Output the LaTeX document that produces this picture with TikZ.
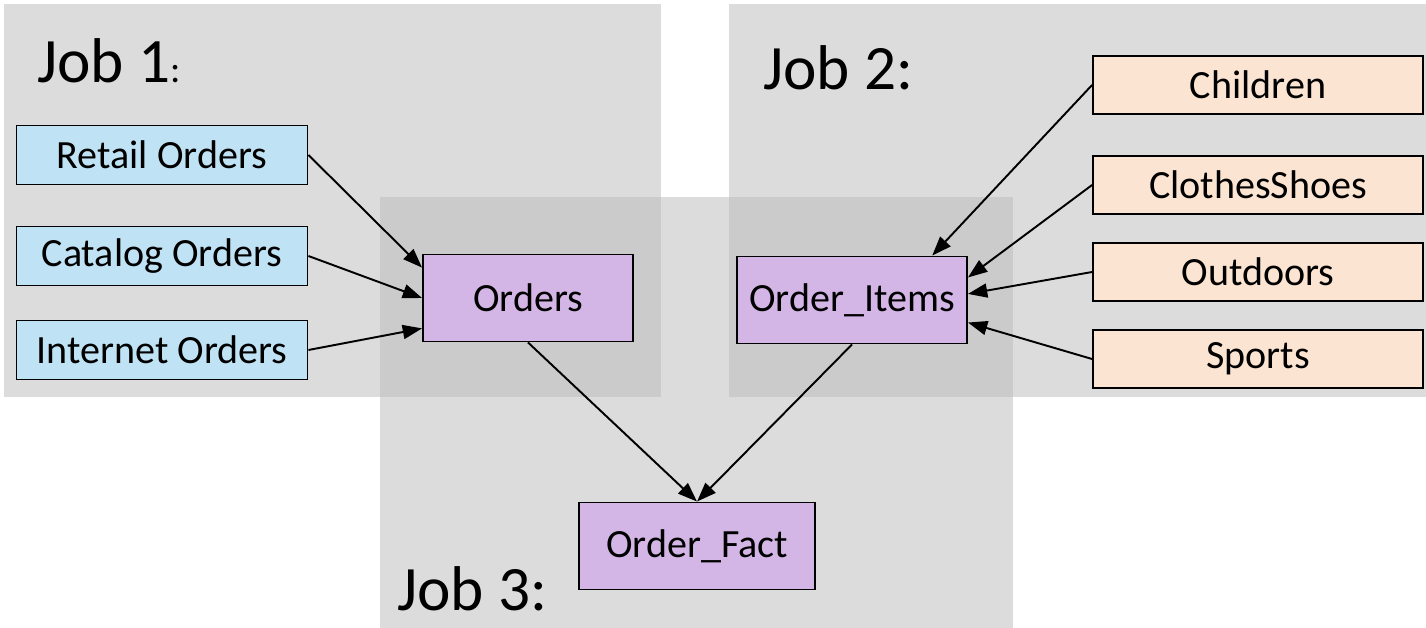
\documentclass[tikz,border=0pt]{standalone}
\usepackage{fontspec}
\setmainfont{Carlito}
\usetikzlibrary{arrows.meta}
\definecolor{panel}{RGB}{220,220,220}
\definecolor{overlap}{RGB}{203,203,203}
\definecolor{srcblue}{RGB}{191,227,244}
\definecolor{srcpeach}{RGB}{252,228,210}
\definecolor{tblpurple}{RGB}{212,182,230}
\tikzset{
  box/.style={draw=black, line width=1.1pt, inner sep=0pt, font=\fontsize{22.8}{27}\selectfont},
  srcbox/.style={box, fill=srcblue, minimum width=5.82cm, minimum height=1.18cm},
  catbox/.style={box, fill=srcpeach, minimum width=6.6cm, minimum height=1.17cm},
  tblbox/.style={box, fill=tblpurple, minimum height=1.74cm},
  joblabel/.style={anchor=base west, inner sep=0pt, font=\fontsize{36}{40}\selectfont},
  arr/.style={line width=1.1pt, -{Triangle[length=11pt,width=8pt]}}
}
\begin{document}
\begin{tikzpicture}[x=0.02cm, y=-0.02cm]
\useasboundingbox (0,0) rectangle (1426,628);
\fill [panel] (4,4) rectangle (661,397);
\fill [panel] (729,4) rectangle (1426,397);
\fill [panel] (380,197) rectangle (1013,628);
\fill [overlap] (380,197) rectangle (661,397);
\fill [overlap] (729,197) rectangle (1013,397);
\node [joblabel] (job1) at (37,83) {Job 1\fontsize{22}{25}\selectfont:};
\node [joblabel] (job2) at (763,90) {Job 2:};
\node [joblabel] (job3) at (397,610) {Job 3:};
\foreach \name/\y/\txt in {retail/155/Retail Orders, catalog/256/Catalog Orders, internet/350/Internet Orders}{
\node [srcbox] (\name) at (162,\y) {\txt};
}
\foreach \name/\y/\txt in {children/85/Children, clothes/185/ClothesShoes, outdoors/272/Outdoors, sports/359/Sports}{
\node [catbox] (\name) at (1258,\y) {\txt};
}
\node [tblbox, minimum width=4.2cm] (orders) at (528,298) {Orders};
\node [tblbox, minimum width=4.6cm] (items) at (852,300) {Order\_Items};
\node [tblbox, minimum width=4.72cm] (fact) at (697,546) {Order\_Fact};
\foreach \a/\b in {retail/164, catalog/180, internet/196}{
\draw [arr] (\a.east) -- (orders.\b);
}
\foreach \a/\b in {children/29, clothes/11, outdoors/3, sports/-11}{
\draw [arr] (\a.west) -- (items.\b);
}
\draw [arr] (orders.south) -- (fact.north);
\draw [arr] (items.south) -- (fact.north);
\end{tikzpicture}
\end{document}
